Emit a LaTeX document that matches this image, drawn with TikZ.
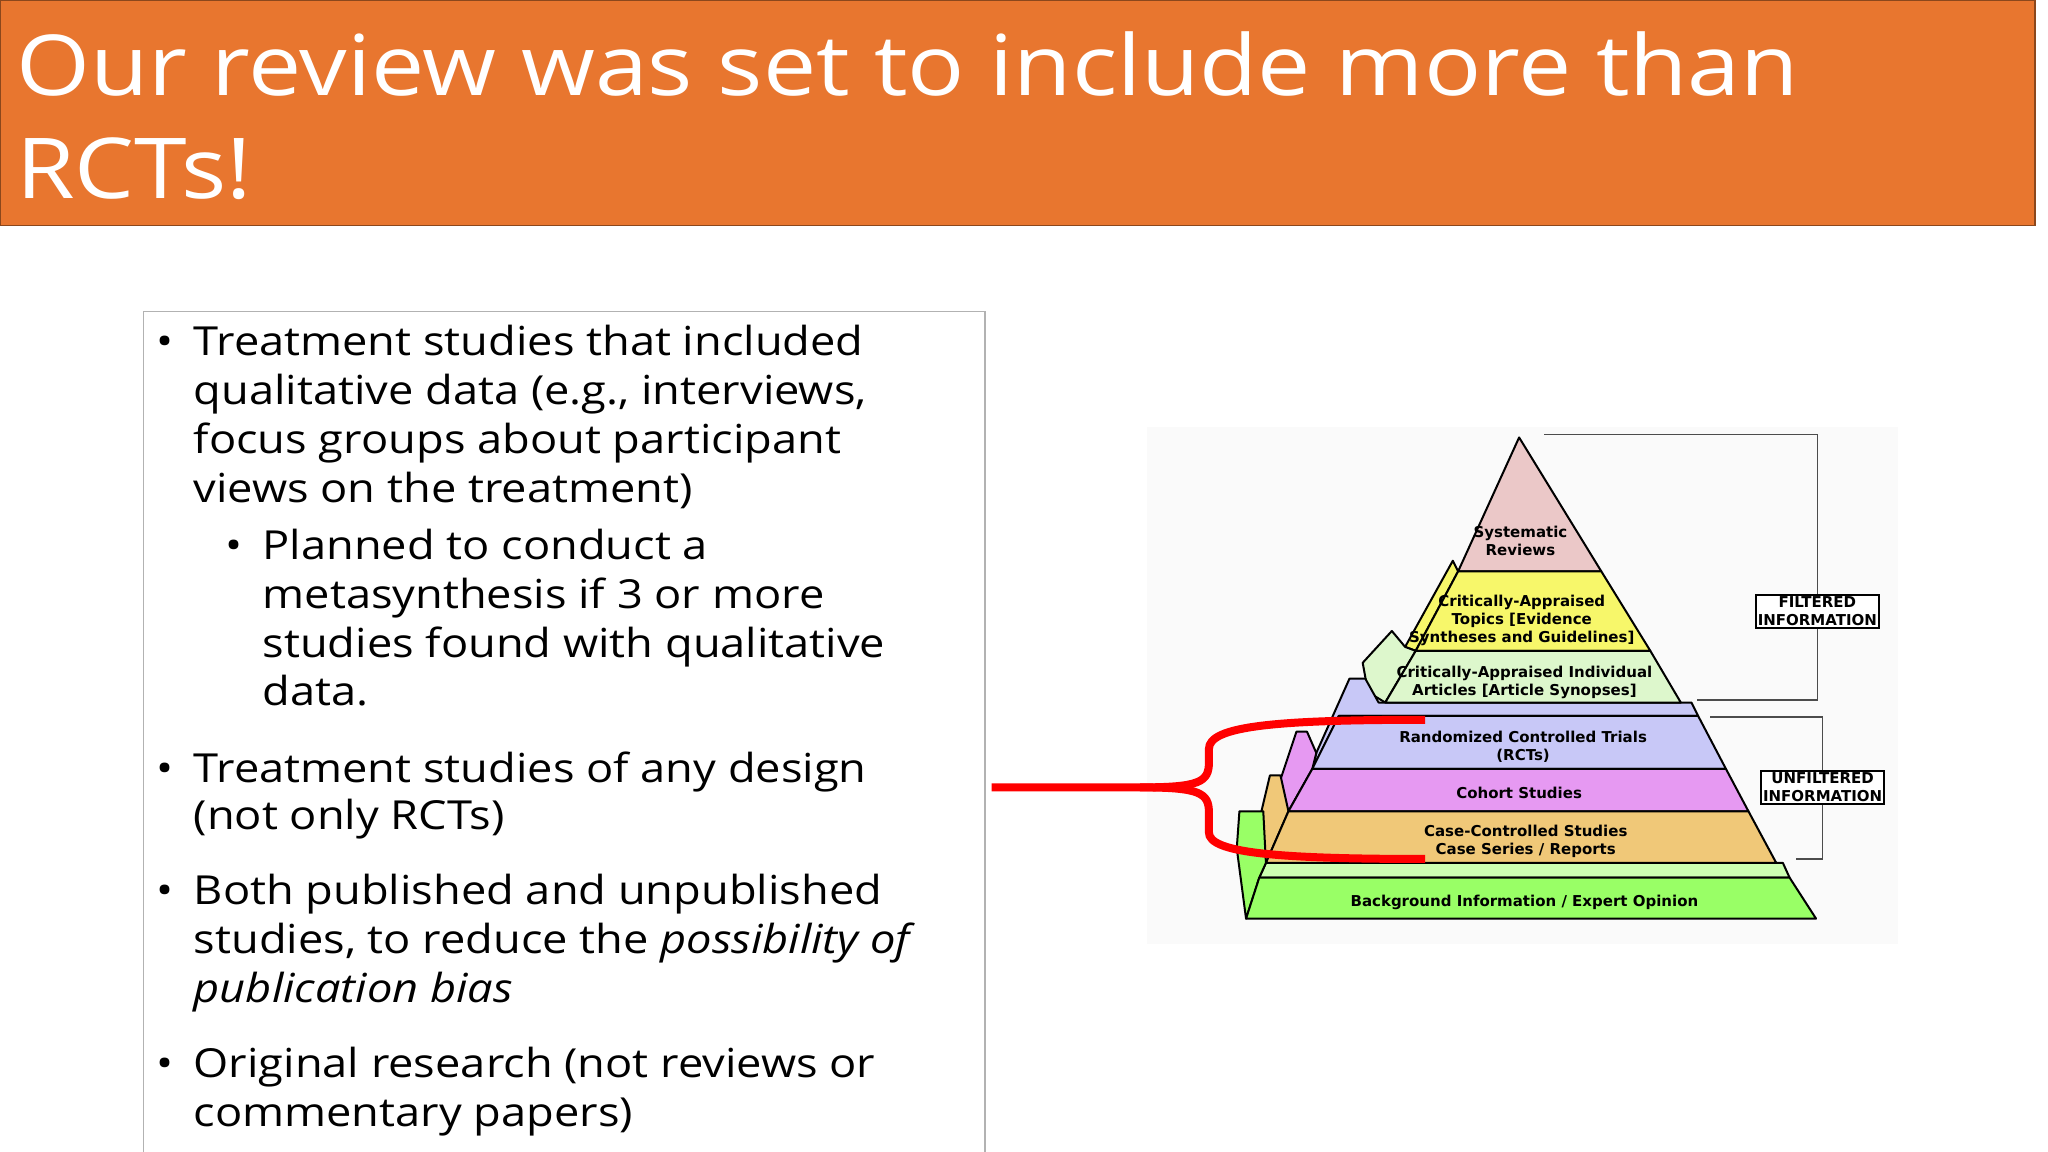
\documentclass[tikz,border=0pt]{standalone}
\usepackage{fontspec}
\setmainfont{Open Sans}[FakeStretch=1.13]
\newfontfamily\pyr{DejaVu Sans}
\definecolor{ttl}{HTML}{E8762F}
\definecolor{srpink}{HTML}{EBC8C8}
\definecolor{catyel}{HTML}{F7F76A}
\definecolor{caigr}{HTML}{DDF7CC}
\definecolor{rctlav}{HTML}{C8C8F7}
\definecolor{cohvio}{HTML}{E699F2}
\definecolor{caseor}{HTML}{F0C878}
\definecolor{bggr}{HTML}{99FF66}
\tikzset{
 body/.style={anchor=base west,inner sep=0,font=\fontsize{40}{49}\selectfont},
 bul/.style={anchor=base west,inner sep=0,font=\fontsize{40}{49}\selectfont},
 band/.style={draw=black,line width=2pt,line join=round},
 plab/.style={font=\pyr\bfseries\fontsize{15}{18}\selectfont,align=center,inner sep=0},
 brk/.style={draw=black!70,line width=1.3pt},
 ibox/.style={draw=black,line width=2pt,fill=white,font=\pyr\bfseries\fontsize{15}{18}\selectfont,align=center,inner sep=2pt},
 redb/.style={draw=red,line width=8pt}
}
\begin{document}
\begin{tikzpicture}[x=1.3256pt,y=-1.3256pt]
\useasboundingbox (0,0) rectangle (1545,869);
\fill[white] (0,0) rectangle (1545,869);
% title
\draw[fill=ttl,draw=ttl!60!black,line width=1.5pt] (0,0) rectangle (1535,170);
\node[anchor=base west,inner sep=0,text=white,font=\fontsize{84}{103}\selectfont] (t1) at (12,72) {Our review was set to include more than};
\node[anchor=base west,inner sep=0,text=white,font=\fontsize{84}{103}\selectfont] (t2) at (12,150) {RCTs!};
% text box
\draw[black!30,line width=1.2pt] (108,235) rectangle (743,870);
\foreach \y in {268,590,682,813} \node[bul] at (118,\y) {•};
\node[bul] at (170,422) {•};
\node[body] (l1) at (146,268) {Treatment studies that included};
\node[body] at (146,305) {qualitative data (e.g., interviews,};
\node[body] at (146,342) {focus groups about participant};
\node[body] at (146,379) {views on the treatment)};
\node[body] at (198,422) {Planned to conduct a};
\node[body] at (198,459) {metasynthesis if 3 or more};
\node[body] at (198,496) {studies found with qualitative};
\node[body] at (198,532) {data.};
\node[body] (l2) at (146,590) {Treatment studies of any design};
\node[body] at (146,626) {(not only RCTs)};
\node[body] at (146,682) {Both published and unpublished};
\node[body] at (146,719) {studies, to reduce the \textit{possibility of}};
\node[body] at (146,756) {\textit{publication bias}};
\node[body] at (146,813) {Original research (not reviews or};
\node[body] at (146,850) {commentary papers)};
% pyramid background
\fill[black!2] (865,322) rectangle (1432,712);
% side faces filtered
\filldraw[band,fill=catyel] (1100,431)--(1096,423)--(1060,488)--(1068,491)--cycle;
\filldraw[band,fill=caigr] (1045,530)--(1068,491)--(1060,488)--(1050,476)--(1028,500)--(1032,522)--cycle;
% unfiltered backs
\filldraw[band,fill=rctlav] (990,580)--(1010,540)--(1281,540)--(1276,530)--(1040,530)--(1030,512)--(1018,512)--(993,568)--cycle;
\filldraw[band,fill=cohvio] (972,612)--(990,580)--(993,568)--(986,552)--(978,552)--(962,600)--cycle;
\filldraw[band,fill=caseor] (955,651)--(972,612)--(966,585)--(958,585)--(945,640)--cycle;
\filldraw[band,fill=bggr!50] (950,662)--(1350,662)--(1345,651)--(955,651)--cycle;
\filldraw[band,fill=bggr] (940,693)--(950,662)--(955,651)--(953,612)--(935,612)--(933,640)--cycle;
% fronts
\filldraw[band,fill=srpink] (1146,330)--(1208,431)--(1100,431)--cycle;
\filldraw[band,fill=catyel] (1100,431)--(1208,431)--(1245,491)--(1068,491)--cycle;
\filldraw[band,fill=caigr] (1068,491)--(1245,491)--(1268,530)--(1045,530)--cycle;
\filldraw[band,fill=rctlav] (1010,540)--(1281,540)--(1302,580)--(990,580)--cycle;
\filldraw[band,fill=cohvio] (990,580)--(1302,580)--(1319,612)--(972,612)--cycle;
\filldraw[band,fill=caseor] (972,612)--(1319,612)--(1340,651)--(955,651)--cycle;
\filldraw[band,fill=bggr] (950,662)--(1350,662)--(1370,693)--(940,693)--cycle;
% labels
\node[plab] (sr) at (1147,408) {Systematic\\Reviews};
\node[plab] (cat) at (1148,468) {Critically-Appraised\\Topics [Evidence\\Syntheses and Guidelines]};
\node[plab] (cai) at (1150,515) {Critically-Appraised Individual\\Articles [Article Synopses]};
\node[plab] (rct) at (1149,563) {Randomized Controlled Trials\\(RCTs)};
\node[plab] (coh) at (1146,598) {Cohort Studies};
\node[plab] (cas) at (1151,635) {Case-Controlled Studies\\Case Series / Reports};
\node[plab] (bg) at (1150,681) {Background Information / Expert Opinion};
% brackets
\node[ibox] (fi) at (1371,461) {FILTERED\\INFORMATION};
\node[ibox] (ui) at (1375,594) {UNFILTERED\\INFORMATION};
\coordinate (f1) at (1165,328); \coordinate (f2) at (1280,528);
\coordinate (u1) at (1290,541); \coordinate (u2) at (1355,648);
\draw[brk] (f1) -| (fi.north); \draw[brk] (fi.south) |- (f2);
\draw[brk] (u1) -| (ui.north); \draw[brk] (ui.south) |- (u2);
% red brace
\coordinate (r0) at (748,594); \coordinate (r1) at (1075,543); \coordinate (r2) at (1075,648);
\draw[redb] (r0) -- (860,594) .. controls (905,594) and (912,590) .. (912,575) -- (912,565) .. controls (912,548) and (960,543) .. (r1);
\draw[redb] (860,594) .. controls (905,594) and (912,598) .. (912,613) -- (912,628) .. controls (912,643) and (960,648) .. (r2);
\end{tikzpicture}
\end{document}
